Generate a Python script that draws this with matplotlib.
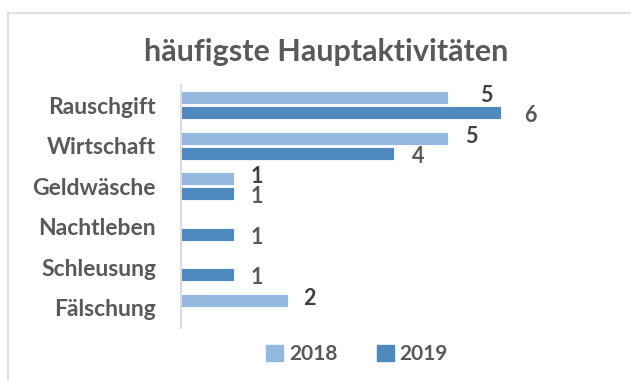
import numpy as np
import matplotlib
matplotlib.use("Agg")
import matplotlib.pyplot as plt
from matplotlib.patches import Rectangle, Patch

plt.rcParams['font.family'] = ['Lato', 'DejaVu Sans']

title = "häufigste Hauptaktivitäten"
categories = ["Rauschgift", "Wirtschaft", "Geldwäsche", "Nachtleben", "Schleusung", "Fälschung"]
series_names = ["2018", "2019"]
values_2018 = [5, 5, 1, None, None, 2]
values_2019 = [6, 4, 1, 1, 1, None]

c2018 = "#95B8DF"
c2019 = "#4F89BD"
text_gray = "#595959"
W, H = 631, 381
fig = plt.figure(figsize=(W / 100, H / 100), dpi=100)

# outer chart frame (runs off the right and bottom edge)
fig.patches.append(Rectangle((8 / W, -0.1), 1.2, (H - 13) / H + 0.1,
                             transform=fig.transFigure, fill=False,
                             edgecolor="#D9D9D9", linewidth=1.2))

ax_left, ax_top, ax_bottom = 181, 85, 328
unit = 53.3
ax = fig.add_axes([ax_left / W, (H - ax_bottom) / H, 7 * unit / W, (ax_bottom - ax_top) / H])

y = np.arange(len(categories))
v18 = np.array([np.nan if v is None else v for v in values_2018], dtype=float)
v19 = np.array([np.nan if v is None else v for v in values_2019], dtype=float)
bh = 0.33
off = 0.185
ax.barh(y - off, v18, height=bh, color=c2018, edgecolor="white", linewidth=0.6)
ax.barh(y + off, v19, height=bh, color=c2019, edgecolor="white", linewidth=0.6)

ax.set_xlim(0, 7)
ax.set_ylim(len(categories) - 0.5, -0.5)
for s in ["top", "right", "bottom"]:
    ax.spines[s].set_visible(False)
ax.spines["left"].set_color("#D9D9D9")
ax.spines["left"].set_linewidth(1.3)
ax.set_xticks([])
ax.set_yticks(y)
ax.set_yticklabels(categories, fontsize=16.5, fontweight="bold", color=text_gray)
ax.tick_params(axis="y", length=0, pad=18)

# value labels (x offsets in points, y offsets in points)
lab18_dx = [28, 17, 16, 16, 16, 16]
lab19_dx = [21, 17, 16, 16, 16, 16]
for i, v in enumerate(values_2018):
    if v is not None:
        ax.annotate(str(v), (v, i - off), xytext=(lab18_dx[i], 1.5), textcoords="offset points",
                    ha="center", va="center", fontsize=15.5, fontweight="bold", color="#404040")
for i, v in enumerate(values_2019):
    if v is not None:
        ax.annotate(str(v), (v, i + off), xytext=(lab19_dx[i], -2), textcoords="offset points",
                    ha="center", va="center", fontsize=15.5, fontweight="bold", color=text_gray)

fig.text(326 / W, 1 - 52 / H, title, ha="center", va="center",
         fontsize=22, fontweight="bold", color=text_gray)

handles = [Patch(color=c2018), Patch(color=c2019)]
fig.legend(handles, series_names, loc="center", bbox_to_anchor=(357 / W, 1 - 354 / H),
           ncol=2, frameon=False, handlelength=0.8, handleheight=0.8,
           handletextpad=0.28, columnspacing=1.9,
           prop={"weight": "bold", "size": 15})
for t in fig.legends[0].get_texts():
    t.set_color(text_gray)

fig.savefig("out.png", dpi=100)
